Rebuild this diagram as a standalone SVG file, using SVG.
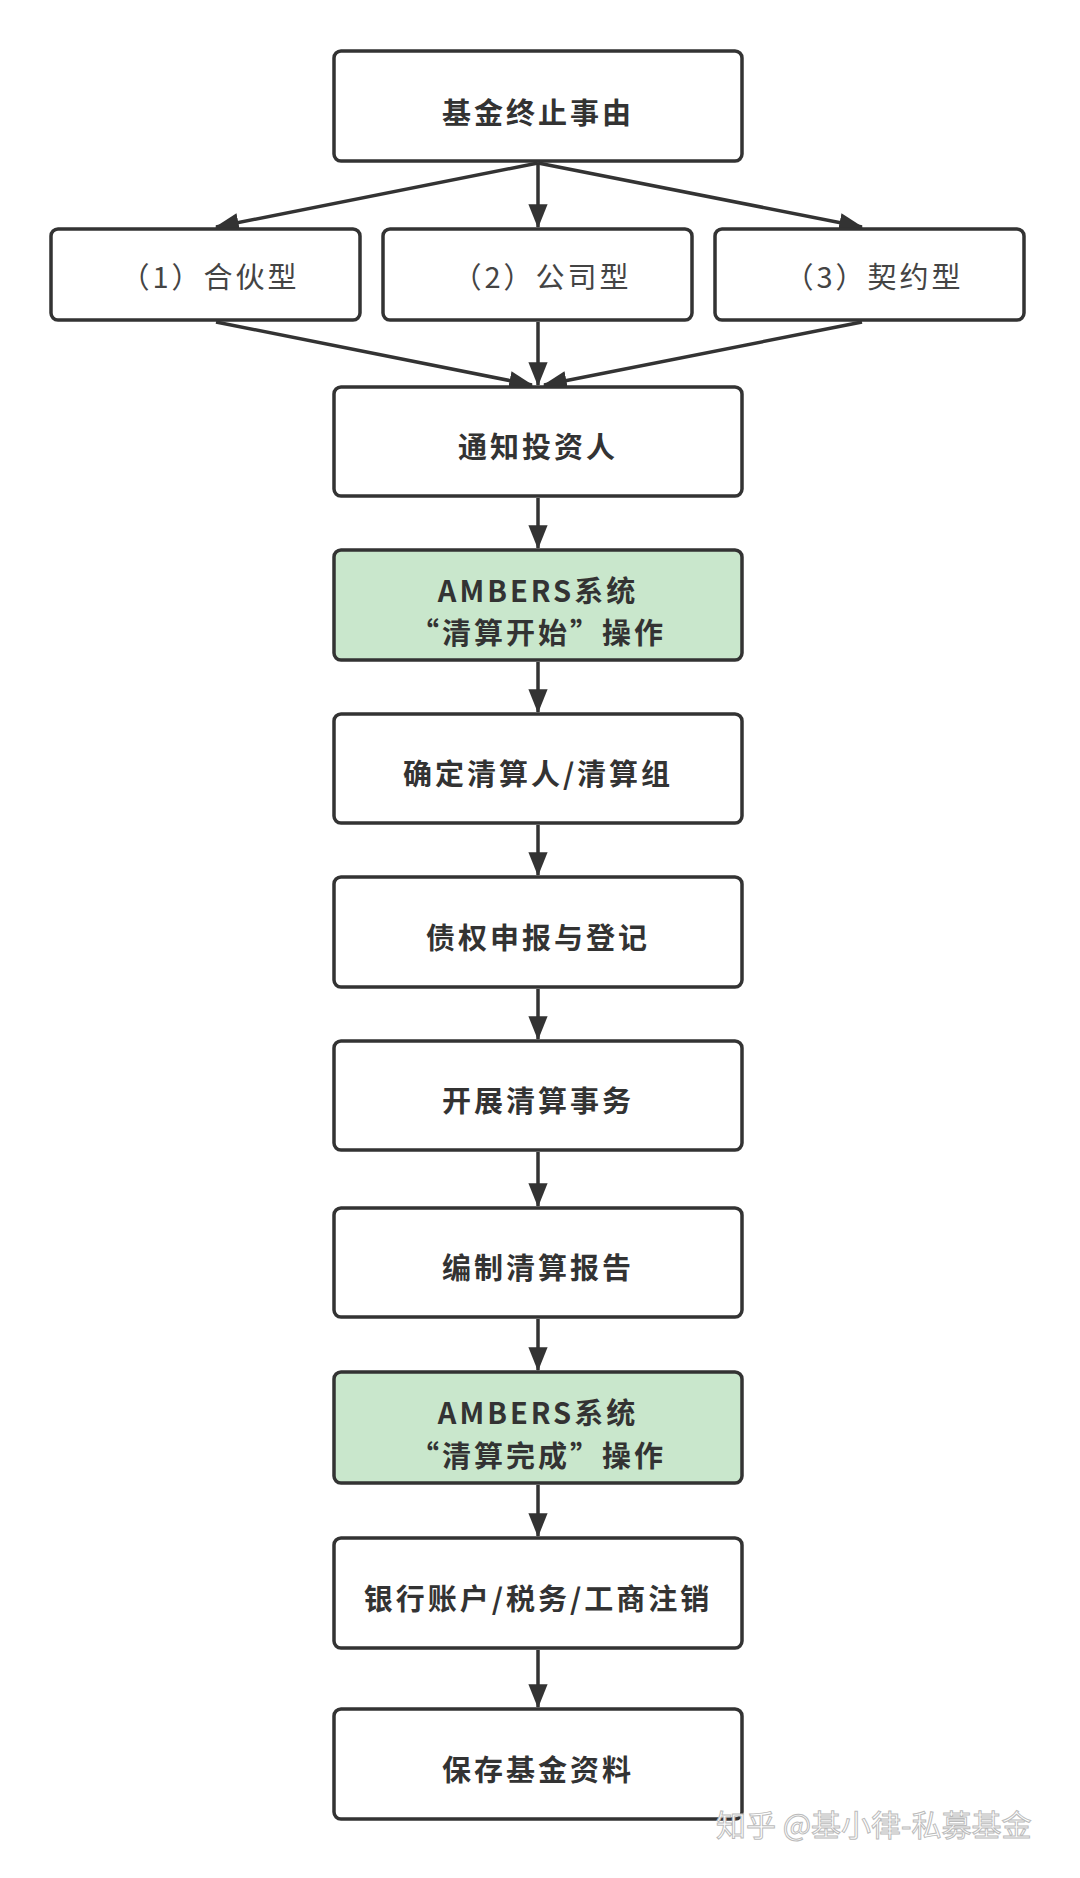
<svg xmlns="http://www.w3.org/2000/svg" width="1080" height="1878" viewBox="0 0 1080 1878">
<style>
.b{fill:#fff;stroke:#333;stroke-width:3.5}
.g{fill:#c9e7cc;stroke:#333;stroke-width:3.5}
.t{font-family:"Noto Sans CJK SC","Liberation Sans",sans-serif;font-size:29px;font-weight:bold;fill:#333;text-anchor:middle;letter-spacing:3px}
.r{font-family:"Noto Sans CJK SC","Liberation Sans",sans-serif;font-size:29px;fill:#444;text-anchor:middle;letter-spacing:3px}
.c{stroke:#333;stroke-width:3.5;fill:none;marker-end:url(#m)}
</style>
<defs>
<marker id="m" viewBox="0 0 20 20" refX="19" refY="10" markerWidth="24" markerHeight="24" orient="auto" markerUnits="userSpaceOnUse"><path d="M0,2 L20,10 L0,18 Z" fill="#333"/></marker></defs>
<rect width="1080" height="1878" fill="#fff"/>
<g id="connectors">
<path class="c" d="M538,163 L216,227"/>
<path class="c" d="M538,163 L538,227"/>
<path class="c" d="M538,163 L862,227"/>
<path class="c" d="M216,322 L532,385"/>
<path class="c" d="M538,322 L538,385"/>
<path class="c" d="M862,322 L544,385"/>
<path class="c" d="M538,498 L538,548"/>
<path class="c" d="M538,662 L538,712"/>
<path class="c" d="M538,825 L538,875"/>
<path class="c" d="M538,989 L538,1039"/>
<path class="c" d="M538,1152 L538,1206"/>
<path class="c" d="M538,1319 L538,1370"/>
<path class="c" d="M538,1485 L538,1536"/>
<path class="c" d="M538,1650 L538,1707"/>
</g>
<g id="n0"><rect class="b" x="334" y="51" width="408" height="110" rx="7"/><text class="t" x="538" y="124">基金终止事由</text></g>
<g id="n1"><rect class="b" x="51" y="229" width="309" height="91" rx="7"/><text class="r" x="210" y="288">（1）合伙型</text></g>
<g id="n2"><rect class="b" x="383" y="229" width="309" height="91" rx="7"/><text class="r" x="542" y="288">（2）公司型</text></g>
<g id="n3"><rect class="b" x="715" y="229" width="309" height="91" rx="7"/><text class="r" x="874" y="288">（3）契约型</text></g>
<g id="n4"><rect class="b" x="334" y="387" width="408" height="109" rx="7"/><text class="t" x="538" y="458">通知投资人</text></g>
<g id="n5"><rect class="g" x="334" y="550" width="408" height="110" rx="7"/><text class="t" x="538" y="602">AMBERS系统</text><text class="t" x="538" y="644">“清算开始”操作</text></g>
<g id="n6"><rect class="b" x="334" y="714" width="408" height="109" rx="7"/><text class="t" x="538" y="785">确定清算人/清算组</text></g>
<g id="n7"><rect class="b" x="334" y="877" width="408" height="110" rx="7"/><text class="t" x="538" y="949">债权申报与登记</text></g>
<g id="n8"><rect class="b" x="334" y="1041" width="408" height="109" rx="7"/><text class="t" x="538" y="1112">开展清算事务</text></g>
<g id="n9"><rect class="b" x="334" y="1208" width="408" height="109" rx="7"/><text class="t" x="538" y="1279">编制清算报告</text></g>
<g id="n10"><rect class="g" x="334" y="1372" width="408" height="111" rx="7"/><text class="t" x="538" y="1424">AMBERS系统</text><text class="t" x="538" y="1467">“清算完成”操作</text></g>
<g id="n11"><rect class="b" x="334" y="1538" width="408" height="110" rx="7"/><text class="t" x="538" y="1610">银行账户/税务/工商注销</text></g>
<g id="n12"><rect class="b" x="334" y="1709" width="408" height="110" rx="7"/><text class="t" x="538" y="1781">保存基金资料</text></g>
<text x="716" y="1836" font-family="Noto Sans CJK SC,sans-serif" font-size="30" fill="#ffffff" stroke="#bbb" stroke-width="1">知乎 @基小律-私募基金</text>
</svg>
